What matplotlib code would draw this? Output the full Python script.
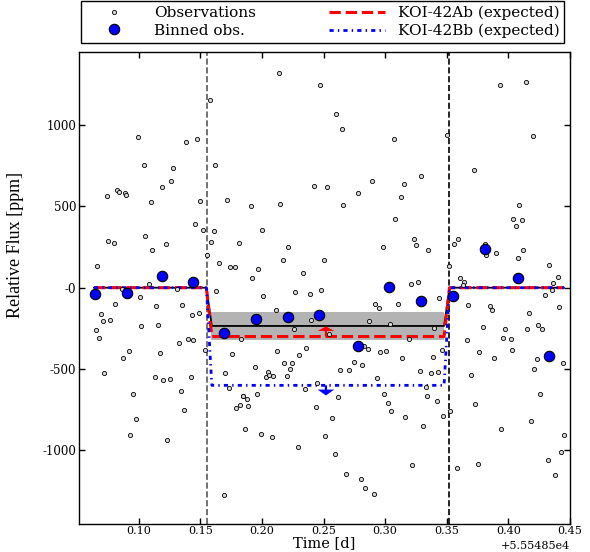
import numpy as np
import matplotlib
matplotlib.use('Agg')
import matplotlib.pyplot as plt
from matplotlib.ticker import ScalarFormatter

plt.rcParams['font.family'] = 'DejaVu Serif'
plt.rcParams['axes.unicode_minus'] = False

# time offset of the x axis [d]
t_offset = 55548.5

# single observations: time (relative to offset) and flux [ppm]
obs_t = [0.158, 0.099, 0.138, 0.147, 0.104, 0.128, 0.162, 0.126, 0.119, 0.082,
         0.084, 0.089, 0.090, 0.074, 0.110, 0.150, 0.172, 0.146, 0.152, 0.161,
         0.105, 0.075, 0.080, 0.122, 0.159, 0.181, 0.111, 0.155, 0.165, 0.066,
         0.174, 0.178, 0.108, 0.086, 0.101, 0.131, 0.163, 0.201, 0.227, 0.239,
         0.248, 0.214, 0.247, 0.260, 0.242, 0.253, 0.215, 0.191, 0.200, 0.221,
         0.217, 0.250, 0.197, 0.233, 0.192,
         0.265, 0.307, 0.289, 0.315, 0.278, 0.313, 0.266, 0.308, 0.298,
         0.350, 0.393, 0.414, 0.420, 0.372, 0.329, 0.409, 0.404, 0.411, 0.406,
         0.323, 0.325, 0.335, 0.359, 0.356, 0.381, 0.382, 0.390, 0.412, 0.408,
         0.433, 0.352, 0.361, 0.364, 0.363, 0.440, 0.436, 0.430, 0.321, 0.327,
         0.344,
         0.081, 0.114, 0.135, 0.069, 0.143, 0.149, 0.071, 0.077, 0.102, 0.116,
         0.065, 0.068, 0.133, 0.140, 0.144, 0.154, 0.092, 0.117, 0.087, 0.183,
         0.176, 0.072, 0.113, 0.120, 0.125, 0.142, 0.170, 0.173, 0.095, 0.134,
         0.185, 0.182, 0.179, 0.137, 0.098, 0.093, 0.123, 0.169,
         0.292, 0.295, 0.310, 0.211, 0.240, 0.287, 0.304, 0.226, 0.254, 0.283,
         0.286, 0.296, 0.301, 0.314, 0.212, 0.236, 0.230, 0.218, 0.224, 0.223,
         0.275, 0.281, 0.263, 0.271, 0.194, 0.205, 0.203, 0.206, 0.209, 0.220,
         0.293, 0.245, 0.235, 0.185, 0.188, 0.196, 0.189, 0.262, 0.244, 0.299,
         0.302, 0.305, 0.316, 0.257, 0.186, 0.199, 0.208, 0.251, 0.229, 0.259,
         0.268, 0.280, 0.284, 0.291,
         0.367, 0.385, 0.387, 0.417, 0.435, 0.441, 0.340, 0.319, 0.379, 0.397,
         0.415, 0.424, 0.427, 0.366, 0.396, 0.402, 0.346, 0.376, 0.403, 0.388,
         0.423, 0.444, 0.339, 0.328, 0.337, 0.343, 0.370, 0.421, 0.333, 0.334,
         0.342, 0.426, 0.373, 0.347, 0.353, 0.331, 0.418, 0.394, 0.445, 0.443,
         0.432, 0.438, 0.375, 0.358, 0.322]
obs_flux = [1152, 924, 897, 912, 752, 736, 752, 654, 619, 599,
            588, 584, 568, 562, 525, 533, 537, 390, 355, 347,
            316, 289, 273, 269, 281, 275, 234, 203, 150, 132,
            125, 125, 21, -8, -55, -10, -20, -49, -26, -37,
            -14, 1318, 1246, 1069, 623, 619, 513, 500, 353, 250,
            168, 172, 113, 88, 58,
            973, 912, 658, 637, 580, 559, 506, 422, 248,
            938, 1246, 1266, 930, 725, 688, 508, 420, 416, 377,
            301, 264, 234, 297, 270, 267, 203, 211, 234, 183,
            138, 135, 58, 37, 17, 64, 31, -47, 23, 33,
            -61,
            -100, -111, -106, -164, -170, -157, -205, -199, -234, -227,
            -262, -307, -340, -317, -321, -385, -389, -400, -434, -315,
            -406, -524, -547, -567, -563, -551, -526, -618, -651, -635,
            -666, -721, -741, -750, -805, -903, -938, -1276,
            -100, -123, -98, -139, -199, -205, -223, -254, -286, -360,
            -377, -395, -387, -434, -389, -372, -415, -463, -463, -500,
            -459, -475, -508, -504, -486, -516, -549, -538, -545, -543,
            -557, -584, -621, -664, -682, -651, -725, -670, -731, -651,
            -711, -758, -793, -803, -868, -899, -918, -910, -977, -1024,
            -1147, -1178, -1233, -1266,
            -104, -115, -135, -155, -16, -120, -250, -317, -243, -254,
            -252, -227, -252, -321, -311, -315, -385, -393, -381, -432,
            -438, -463, -426, -512, -522, -516, -538, -498, -612, -666,
            -695, -655, -717, -787, -760, -850, -819, -868, -907, -1010,
            -1061, -1149, -1084, -1108, -1092]

# binned observations
bin_t = [0.0647, 0.0902, 0.1189, 0.1441, 0.1695, 0.1951, 0.2209, 0.2462,
         0.2776, 0.3033, 0.3294, 0.3549, 0.3809, 0.4076, 0.4333]
bin_flux = [-37, -31, 72, 37, -277, -194, -178, -166,
            -358, 2, -84, -49, 236, 58, -420]

# transit models (same contact times)
model_t = [0.0637, 0.1549, 0.1593, 0.3478, 0.3522, 0.445]
fit_flux = [0, 0, -235, -235, 0, 0]
koi42ab_flux = [0, 0, -300, -300, 0, 0]
koi42bb_flux = [0, 0, -600, -600, 0, 0]

# uncertainty band of the fitted depth
band_t = [0.1585, 0.348]
band_low = -323
band_high = -147

# contact times marked by dashed lines, arrow position
t_start = 0.155
t_end = 0.352
arrow_t = 0.2519

xticks = [0.10, 0.15, 0.20, 0.25, 0.30, 0.35, 0.40, 0.45]
yticks = [-1000, -500, 0, 500, 1000]
ytick_labels = ['-1000', '-500', '-0', '500', '1000']


def tt(v):
    return t_offset + np.asarray(v)


fig = plt.figure(figsize=(5.9, 5.52), dpi=100)
ax = fig.add_axes([79 / 590, 28.3 / 552, 491 / 590, 472 / 552])

ax.fill_between(tt(band_t), band_low, band_high, color='0.7', lw=0, zorder=1)
ax.axvline(tt(t_start), color='0.35', ls='--', lw=1.2, zorder=2)
ax.axvline(tt(t_end), color='k', ls='--', lw=1.2, zorder=2)

ax.plot(tt(model_t), fit_flux, '-', color='k', lw=1.3, zorder=3)
l_ab, = ax.plot(tt(model_t), koi42ab_flux, '--', color='red', lw=2.2, zorder=3)
l_bb, = ax.plot(tt(model_t), koi42bb_flux, color='blue', lw=2.0,
                ls=(0, (1.5, 1.5, 0.5, 1.5)), zorder=3)

ax.arrow(tt(arrow_t), koi42ab_flux[2], 0, 62, width=0.0018, head_width=0.0135,
         head_length=28, length_includes_head=True, color='red', lw=0, zorder=4)
ax.arrow(tt(arrow_t), koi42bb_flux[2], 0, -62, width=0.0018, head_width=0.0135,
         head_length=36, length_includes_head=True, color='blue', lw=0, zorder=4)

l_obs, = ax.plot(tt(obs_t), obs_flux, 'o', ms=3, mfc='0.85', mec='k',
                 mew=0.6, zorder=5)
l_bin, = ax.plot(tt(bin_t), bin_flux, 'o', ms=7.5, mfc='blue', mec='k',
                 mew=0.8, zorder=6)

ax.set_xlim(tt(0.0515), tt(0.45))
ax.set_ylim(-1450, 1450)
ax.set_xticks(tt(xticks))
ax.xaxis.set_major_formatter(ScalarFormatter(useOffset=t_offset))
ax.set_yticks(yticks, labels=ytick_labels)
ax.tick_params(direction='in', top=True, right=True, length=4, width=1,
               labelsize=8.5, pad=2)
ax.tick_params(axis='x', labelsize=8, pad=2)
ax.xaxis.get_offset_text().set_fontsize(8)
for s in ax.spines.values():
    s.set_linewidth(1.0)

ax.set_xlabel('Time [d]', fontsize=10.5, labelpad=0)
ax.set_ylabel('Relative Flux [ppm]', fontsize=13, family='Liberation Serif')
ax.yaxis.set_label_coords(-0.112, 0.59)

leg = fig.legend([l_obs, l_bin, l_ab, l_bb],
                 ['Observations', 'Binned obs.', 'KOI-42Ab (expected)',
                  'KOI-42Bb (expected)'],
                 loc='upper left', bbox_to_anchor=(81 / 590, 1 - 1 / 552, 483 / 590, 0),
                 mode='expand', ncol=2, fancybox=False, edgecolor='k',
                 framealpha=1, fontsize=11, handlelength=3.7, borderaxespad=0,
                 labelspacing=0.25, borderpad=0.3)
leg.get_frame().set_linewidth(1.0)

fig.savefig('out.png', dpi=100)
